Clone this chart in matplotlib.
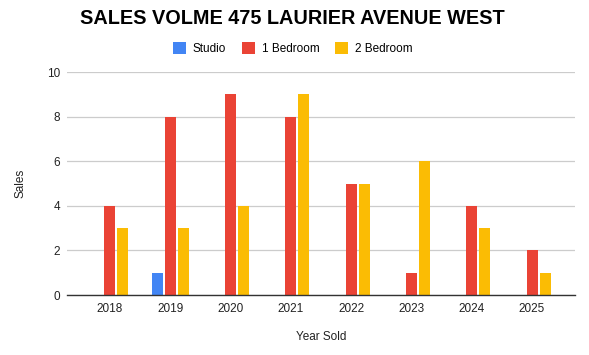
import matplotlib.pyplot as plt
import numpy as np

plt.rcParams['font.family'] = ['Liberation Sans', 'DejaVu Sans']

years = ['2018', '2019', '2020', '2021', '2022', '2023', '2024', '2025']
studio = [0, 1, 0, 0, 0, 0, 0, 0]
one_bed = [4, 8, 9, 8, 5, 1, 4, 2]
two_bed = [3, 3, 4, 9, 5, 6, 3, 1]

series = [
    ('Studio', studio, '#4285F4'),
    ('1 Bedroom', one_bed, '#EA4335'),
    ('2 Bedroom', two_bed, '#FBBC04'),
]

fig = plt.figure(figsize=(5.89, 3.55), dpi=100)
ax = fig.add_axes([0.114, 0.169, 0.862, 0.628])

x = np.arange(len(years))
bar_w = 0.182
step = 0.216
for i, (name, vals, color) in enumerate(series):
    ax.bar(x + (i - 1) * step, vals, width=bar_w, color=color, label=name, zorder=3)

ax.set_xlim(-0.71, len(years) - 0.29)
ax.set_ylim(0, 10)
ax.set_yticks(range(0, 11, 2))
ax.set_xticks(x)
ax.set_xticklabels(years)
ax.tick_params(axis='both', length=0, labelsize=8.5, colors='#222222')
ax.tick_params(axis='y', pad=5)
ax.tick_params(axis='x', pad=6)
ax.grid(axis='y', color='#cccccc', linewidth=0.9, zorder=0)
for s in ['top', 'right', 'left']:
    ax.spines[s].set_visible(False)
ax.spines['bottom'].set_color('#333333')
ax.spines['bottom'].set_linewidth(1.0)
ax.spines['bottom'].set_zorder(4)

ax.set_ylabel('Sales', fontsize=8.5, color='#222222', labelpad=15)
ax.set_xlabel('Year Sold', fontsize=8.5, color='#222222', labelpad=11)

fig.text(0.136, 0.948, 'SALES VOLME 475 LAURIER AVENUE WEST', fontsize=14.3,
         fontweight='bold', ha='left', va='center', color='black')

ax.legend(loc='center', bbox_to_anchor=(0.444, 1.105), ncol=3, frameon=False,
          fontsize=8.5, handlelength=1.1, handleheight=1.1, columnspacing=1.3,
          handletextpad=0.6)

fig.savefig('out.png', dpi=100, facecolor='white')
